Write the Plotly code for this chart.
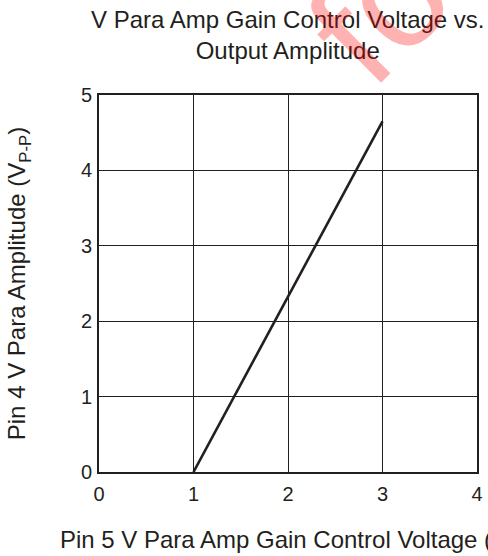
import plotly.graph_objects as go

# Gain control voltage (V) vs. output amplitude (Vp-p)
control_voltage = [1.0, 3.0]
output_amplitude = [0.0, 4.65]

x_ticks = [0, 1, 2, 3, 4]
y_ticks = [0, 1, 2, 3, 4, 5]

INK = "#231f20"
FONT = "Liberation Sans, Arial, Helvetica, sans-serif"

fig = go.Figure()
fig.add_trace(go.Scatter(
    x=control_voltage, y=output_amplitude, mode="lines",
    line=dict(color=INK, width=2.6), showlegend=False, hoverinfo="skip",
))

axis_common = dict(
    showgrid=True, gridcolor=INK, gridwidth=1,
    showline=True, linecolor=INK, linewidth=2, mirror=True,
    ticks="", zeroline=False, automargin=False,
    tickfont=dict(family=FONT, size=20, color=INK),
)

fig.update_xaxes(
    range=[0, 4], tickvals=x_ticks, ticktext=[str(v) for v in x_ticks],
    ticklabelstandoff=3,
    title=dict(text="Pin 5 V Para Amp Gain Control Voltage (V)",
               font=dict(family=FONT, size=24, color=INK), standoff=27),
    **axis_common,
)
fig.update_yaxes(
    range=[0, 5], tickvals=y_ticks, ticktext=[str(v) for v in y_ticks],
    ticklabelstandoff=1,
    title=dict(text="Pin 4 V Para Amplitude (V<sub>P-P</sub>)",
               font=dict(family=FONT, size=24, color=INK), standoff=48),
    **axis_common,
)

fig.update_layout(
    width=488, height=556,
    margin=dict(l=99, r=11, t=95, b=84),
    paper_bgcolor="white", plot_bgcolor="white",
)

# Two-line heading centred over the plot area
fig.add_annotation(
    text="V Para Amp Gain Control Voltage vs.<br>Output Amplitude",
    xref="paper", yref="paper", x=0.5, y=1.2414,
    xanchor="center", yanchor="top", showarrow=False,
    font=dict(family=FONT, size=24, color=INK),
)

# Translucent red watermark lettering across the heading
fig.add_annotation(
    text="fo", xref="paper", yref="paper", x=0.742, y=1.222,
    xanchor="center", yanchor="middle", showarrow=False, textangle=-45,
    font=dict(family=FONT, size=150, color="rgba(255,0,0,0.3)"),
)

fig.write_html("out.html")
